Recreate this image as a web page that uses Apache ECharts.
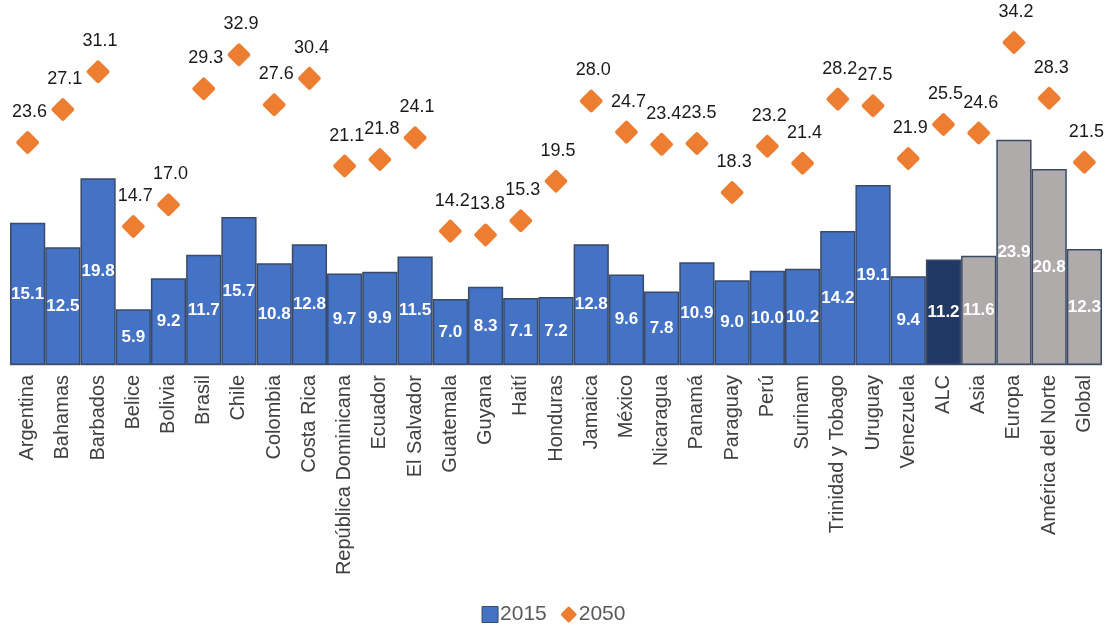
<!DOCTYPE html>
<html>
<head>
<meta charset="utf-8">
<script src="https://cdn.jsdelivr.net/npm/echarts@6/dist/echarts.min.js"></script>
<style>
  html, body { margin: 0; padding: 0; background: #fff; }
  #chart { width: 1107px; height: 626px; }
</style>
</head>
<body>
<div id="chart"></div>
<script>
// 类别
const categories = ['Argentina', 'Bahamas', 'Barbados', 'Belice', 'Bolivia', 'Brasil', 'Chile', 'Colombia',
  'Costa Rica', 'República Dominicana', 'Ecuador', 'El Salvador', 'Guatemala', 'Guyana', 'Haití', 'Honduras',
  'Jamaica', 'México', 'Nicaragua', 'Panamá', 'Paraguay', 'Perú', 'Surinam', 'Trinidad y Tobago', 'Uruguay',
  'Venezuela', 'ALC', 'Asia', 'Europa', 'América del Norte', 'Global']

// 2015 数据
const values2015 = [15.1, 12.5, 19.8, 5.9, 9.2, 11.7, 15.7, 10.8, 12.8, 9.7, 9.9, 11.5, 7.0, 8.3, 7.1, 7.2,
  12.8, 9.6, 7.8, 10.9, 9.0, 10.0, 10.2, 14.2, 19.1, 9.4, 11.2, 11.6, 23.9, 20.8, 12.3]

// 2050 数据
const values2050 = [23.6, 27.1, 31.1, 14.7, 17.0, 29.3, 32.9, 27.6, 30.4, 21.1, 21.8, 24.1, 14.2, 13.8, 15.3, 19.5,
  28.0, 24.7, 23.4, 23.5, 18.3, 23.2, 21.4, 28.2, 27.5, 21.9, 25.5, 24.6, 34.2, 28.3, 21.5]

// 区域分组颜色
const regionAlc = ['ALC']
const regionWorld = ['Asia', 'Europa', 'América del Norte', 'Global']

const barColor = (name) => {
  if (regionAlc.includes(name)) return '#203864'
  if (regionWorld.includes(name)) return '#AFABAB'
  return '#4472C4'
}

// 圆角菱形
const roundDiamond = 'path://M44,6 Q50,0 56,6 L94,44 Q100,50 94,56 L56,94 Q50,100 44,94 L6,56 Q0,50 6,44 Z'

const chart = echarts.init(document.getElementById('chart'))

const option = {
  animation: false,
  textStyle: { fontFamily: 'Liberation Sans, Arial, sans-serif' },
  grid: {
    left: 10,
    right: 5,
    top: 35,
    bottom: 261
  },
  legend: {
    top: 599,
    left: 'center',
    itemWidth: 16,
    itemHeight: 16,
    itemGap: 14,
    textStyle: { fontSize: 21, color: '#595959', padding: [0, 0, 0, -3] },
    data: [
      { name: '2015', icon: 'path://M1,1 L15,1 L15,15 L1,15 Z', itemStyle: { color: '#4472C4', borderColor: '#3A4A66', borderWidth: 1 } },
      { name: '2050', icon: roundDiamond, itemStyle: { color: '#ED7D31' } }
    ]
  },
  xAxis: {
    type: 'category',
    data: categories,
    axisLine: { lineStyle: { color: '#D9D9D9', width: 1 } },
    axisTick: { show: false },
    axisLabel: {
      rotate: 90,
      interval: 0,
      fontSize: 20,
      color: '#404040',
      margin: 10
    }
  },
  yAxis: {
    type: 'value',
    min: 0,
    max: 35,
    show: false
  },
  series: [
    {
      name: '2015',
      type: 'bar',
      barCategoryGap: 0,
      color: '#4472C4',
      data: values2015.map((v, i) => ({
        value: v,
        itemStyle: { color: barColor(categories[i]) }
      })),
      itemStyle: {
        borderColor: '#3A4A66',
        borderWidth: 1.5
      },
      label: {
        show: true,
        position: 'inside',
        color: '#fff',
        fontWeight: 'bold',
        fontSize: 17,
        formatter: (p) => p.value.toFixed(1)
      }
    },
    {
      name: '2050',
      type: 'scatter',
      symbol: roundDiamond,
      symbolSize: [23, 23],
      color: '#ED7D31',
      data: values2050,
      itemStyle: { color: '#ED7D31', opacity: 1 },
      label: {
        show: true,
        position: 'top',
        distance: 10,
        offset: [2, 0],
        color: '#1a1a1a',
        fontSize: 18,
        formatter: (p) => p.value.toFixed(1)
      }
    }
  ]
}

chart.setOption(option)
</script>
</body>
</html>
